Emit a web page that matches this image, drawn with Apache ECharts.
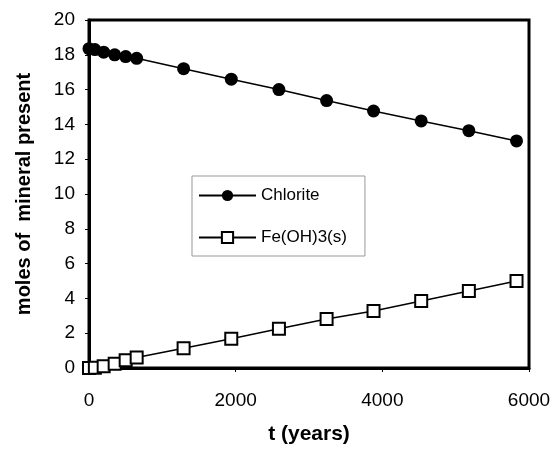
<!DOCTYPE html>
<html>
<head>
    <meta charset="utf-8"/>
    <title>moles of mineral present</title>
    <script src="https://cdn.jsdelivr.net/npm/echarts@6/dist/echarts.min.js"></script>
    <style>
        html, body { margin: 0; padding: 0; background: #fff; }
        #chart { width: 555px; height: 451px; }
    </style>
</head>
<body>
<div id="chart"></div>
<script>
    // time (years)
    var years = [0, 80, 200, 350, 500, 650, 1290, 1940, 2590, 3240, 3880, 4530, 5180, 5830];
    // moles of mineral
    var chlorite = [18.35, 18.3, 18.15, 18.0, 17.9, 17.8, 17.2, 16.6, 16.0, 15.37, 14.77, 14.2, 13.64, 13.05];
    var feoh3 = [0, 0.02, 0.1, 0.25, 0.45, 0.6, 1.13, 1.68, 2.25, 2.82, 3.28, 3.85, 4.43, 5.0];

    var xTicks = [0, 2000, 4000, 6000];
    var yTicks = [0, 2, 4, 6, 8, 10, 12, 14, 16, 18, 20];

    function pairs(xs, ys) {
        var out = [];
        for (var i = 0; i < xs.length; i++) {
            out.push([xs[i], ys[i]]);
        }
        return out;
    }

    var font = 'Liberation Sans, Arial, sans-serif';
    var myChart = echarts.init(document.getElementById('chart'));
    var option = {
        animation: false,
        backgroundColor: '#fff',
        grid: {
            left: 89,
            top: 20,
            right: 26,
            bottom: 83,
            show: true,
            borderColor: '#000',
            borderWidth: 3
        },
        legend: {
            orient: 'vertical',
            left: 192,
            top: 176,
            padding: [11, 18, 10, 6],
            itemWidth: 57,
            itemHeight: 14,
            itemGap: 25,
            borderColor: '#999',
            borderWidth: 1,
            textStyle: { fontFamily: font, fontSize: 17, color: '#000' },
            data: ['Chlorite', 'Fe(OH)3(s)']
        },
        xAxis: {
            type: 'value',
            min: xTicks[0],
            max: xTicks[xTicks.length - 1],
            interval: 2000,
            name: 't (years)',
            nameLocation: 'middle',
            nameGap: 56,
            nameTextStyle: { fontFamily: font, fontSize: 21, fontWeight: 'bold', color: '#000' },
            axisLine: { lineStyle: { color: '#000', width: 3 } },
            axisTick: { length: 4, lineStyle: { color: '#000', width: 1 } },
            axisLabel: {
                fontFamily: font, fontSize: 19, color: '#000', margin: 23,
                formatter: function (v) { return String(v); }
            },
            splitLine: { show: false }
        },
        yAxis: {
            type: 'value',
            min: yTicks[0],
            max: yTicks[yTicks.length - 1],
            interval: 2,
            name: 'moles of  mineral present',
            nameLocation: 'middle',
            nameGap: 55,
            nameTextStyle: { fontFamily: font, fontSize: 20, fontWeight: 'bold', color: '#000' },
            axisLine: { lineStyle: { color: '#000', width: 3 } },
            axisTick: { length: 4, lineStyle: { color: '#000', width: 1 } },
            axisLabel: { fontFamily: font, fontSize: 19, color: '#000', margin: 14 },
            splitLine: { show: false }
        },
        series: [{
            name: 'Chlorite',
            type: 'line',
            data: pairs(years, chlorite),
            symbol: 'circle',
            symbolSize: 13,
            lineStyle: { color: '#000', width: 1.5 },
            itemStyle: { color: '#000', borderColor: '#000', borderWidth: 0 }
        }, {
            name: 'Fe(OH)3(s)',
            type: 'line',
            data: pairs(years, feoh3),
            symbol: 'rect',
            symbolSize: 12,
            lineStyle: { color: '#000', width: 1.5 },
            itemStyle: { color: '#fff', borderColor: '#000', borderWidth: 2 }
        }]
    };
    myChart.setOption(option);
</script>
</body>
</html>
